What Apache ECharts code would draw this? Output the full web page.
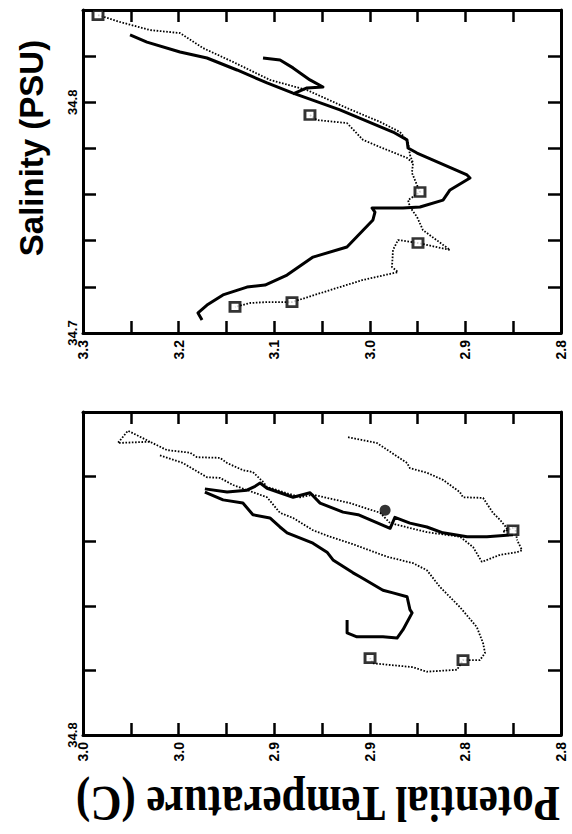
<!DOCTYPE html>
<html>
<head>
<meta charset="utf-8">
<script src="https://cdn.jsdelivr.net/npm/echarts@6/dist/echarts.min.js"></script>
<style>
html,body{margin:0;padding:0;background:#fff;}
#chart{width:572px;height:834px;}
</style>
</head>
<body>
<div id="chart"></div>
<script>
// ---------- Data: [potential temperature (C), salinity (PSU)] ----------
// Upper panel
const topDottedA = [[3.2843,34.8378],[3.2613,34.8348],[3.2299,34.8313],[3.1985,34.8300],[3.1745,34.8235],[3.1431,34.8175],[3.1044,34.8097],[3.0657,34.8053],[3.0239,34.7975],[2.9893,34.7915],[2.9684,34.7871],[2.9600,34.7828],[2.9580,34.7772],[2.9548,34.7737],[2.9559,34.7694],[2.9506,34.7641],[2.9475,34.7611],[2.9600,34.7576],[2.9580,34.7546],[2.9506,34.7503],[2.9444,34.7446],[2.9161,34.7360],[2.9496,34.7390],[2.9705,34.7403],[2.9757,34.7360],[2.9768,34.7286],[2.9705,34.7264],[3.0071,34.7230],[3.0416,34.7186],[3.0814,34.7134],[3.1075,34.7134],[3.1253,34.7130],[3.1410,34.7113]];
const topDottedB = [[3.0626,34.7945],[3.0552,34.7923],[3.0239,34.7910],[3.0071,34.7837],[2.9893,34.7806],[2.9611,34.7759],[2.9548,34.7737]];
const topSolidA = [[3.2508,34.8292],[3.2331,34.8261],[3.1985,34.8218],[3.1703,34.8192],[3.1389,34.8140],[3.1075,34.8084],[3.0803,34.8040],[3.0312,34.7967],[2.9757,34.7871],[2.9611,34.7837],[2.9600,34.7802],[2.9506,34.7780],[2.8983,34.7685],[2.8952,34.7672],[2.9161,34.7620],[2.9234,34.7576],[2.9475,34.7546],[2.9653,34.7542],[2.9977,34.7542],[2.9946,34.7524],[2.9967,34.7490],[3.0239,34.7373],[3.0594,34.7329],[3.0866,34.7251],[3.1096,34.7208],[3.1285,34.7199],[3.1536,34.7165],[3.1703,34.7121],[3.1797,34.7087],[3.1755,34.7056]];
const topSolidB = [[3.1117,34.8192],[3.0939,34.8183],[3.0803,34.8149],[3.0626,34.8097],[3.0490,34.8066],[3.0657,34.8062],[3.0803,34.8036]];
const topSquares = [[3.2843,34.8378],[3.0626,34.7945],[2.9475,34.7611],[2.9496,34.7390],[3.0814,34.7134],[3.1410,34.7113]];

// Lower panel
const botDottedUpper = [[2.9720,34.8454],[2.9812,34.8471],[2.9854,34.8452],[2.9720,34.8454],[2.9649,34.8441],[2.9552,34.8437],[2.9523,34.8430],[2.9427,34.8429],[2.9397,34.8421],[2.9331,34.8410],[2.9289,34.8407],[2.9247,34.8392],[2.9230,34.8384],[2.9092,34.8368],[2.9038,34.8372],[2.8883,34.8359],[2.8757,34.8344],[2.8715,34.8328],[2.8561,34.8314],[2.8423,34.8307],[2.8368,34.8291],[2.8331,34.8268],[2.8255,34.8279],[2.8184,34.8283],[2.8163,34.8286],[2.8184,34.8302]];
const botDottedLoop = [[2.9678,34.8433],[2.9582,34.8421],[2.9481,34.8399],[2.9427,34.8398],[2.9372,34.8387],[2.9230,34.8368],[2.9176,34.8344],[2.9121,34.8336],[2.9038,34.8317],[2.8967,34.8307],[2.8883,34.8297],[2.8728,34.8276],[2.8619,34.8266],[2.8561,34.8255],[2.8506,34.8229],[2.8423,34.8198],[2.8352,34.8167],[2.8326,34.8142],[2.8318,34.8127],[2.8339,34.8116],[2.8410,34.8116],[2.8435,34.8101],[2.8561,34.8098],[2.8619,34.8105],[2.8787,34.8111],[2.8799,34.8119]];
const botDottedTop = [[2.8891,34.8461],[2.8770,34.8452],[2.8644,34.8421],[2.8632,34.8413],[2.8561,34.8406],[2.8494,34.8395],[2.8423,34.8376],[2.8410,34.8368],[2.8326,34.8367],[2.8285,34.8344],[2.8255,34.8333],[2.8226,34.8320],[2.8243,34.8314],[2.8192,34.8322],[2.8184,34.8302]];
const botSolidA = [[2.9490,34.8381],[2.9397,34.8376],[2.9314,34.8379],[2.9280,34.8385],[2.9259,34.8390],[2.9230,34.8382],[2.9121,34.8368],[2.9050,34.8375],[2.9008,34.8359],[2.8912,34.8345],[2.8849,34.8341],[2.8715,34.8320],[2.8695,34.8337],[2.8632,34.8328],[2.8561,34.8322],[2.8494,34.8313],[2.8393,34.8307],[2.8310,34.8307],[2.8201,34.8310]];
const botSolidB = [[2.9490,34.8376],[2.9414,34.8364],[2.9331,34.8359],[2.9289,34.8341],[2.9218,34.8336],[2.9176,34.8322],[2.9146,34.8313],[2.9038,34.8297],[2.8979,34.8283],[2.8954,34.8271],[2.8870,34.8251],[2.8841,34.8245],[2.8745,34.8224],[2.8703,34.8220],[2.8644,34.8214],[2.8632,34.8194],[2.8623,34.8189],[2.8661,34.8163],[2.8686,34.8150],[2.8745,34.8152],[2.8854,34.8152],[2.8895,34.8158],[2.8895,34.8178]];
const botSquares = [[2.8799,34.8119],[2.8410,34.8116],[2.8201,34.8317]];
const botDots = [[2.8736,34.8348]];

// Tick labels
const topTempTicks = [2.8, 2.9, 3.0, 3.1, 3.2, 3.3];
const botTempTicks = [2.80, 2.84, 2.88, 2.92, 2.96, 3.00];
const topSalTicks = [34.7, 34.8];
const botSalTicks = [34.8];
const salTitle = 'Salinity (PSU)';
const tempTitle = 'Potential Temperature (C)';

function labelFor(ticks) {
  return function (v) {
    for (const t of ticks) { if (Math.abs(v - t) < 1e-6) return t.toFixed(1); }
    return '';
  };
}
const labelFont = { color: '#000', fontWeight: 'bold', fontSize: 14, fontFamily: 'Liberation Sans' };
function xAxisDef(gridIndex, pos, min, max, interval, ticks) {
  return {
    type: 'value', gridIndex, position: pos, inverse: true, min, max, interval,
    axisLine: { show: true, onZero: false, lineStyle: { color: '#000', width: 3 } },
    axisTick: { show: true, inside: true, length: 12, lineStyle: { color: '#000', width: 2.5 } },
    axisLabel: Object.assign({ show: pos === 'bottom', rotate: 90, margin: 7, showMinLabel: true, showMaxLabel: true, formatter: labelFor(ticks) }, labelFont),
    splitLine: { show: false }
  };
}
function yAxisDef(gridIndex, pos, min, max, interval, ticks) {
  return {
    type: 'value', gridIndex, position: pos, min, max, interval,
    axisLine: { show: true, onZero: false, lineStyle: { color: '#000', width: 3 } },
    axisTick: { show: true, inside: true, length: 13, lineStyle: { color: '#000', width: 2.5 } },
    axisLabel: Object.assign({ show: pos === 'left', rotate: 90, margin: 4, showMinLabel: true, showMaxLabel: true, formatter: labelFor(ticks) }, labelFont, { fontSize: 13 }),
    splitLine: { show: false }
  };
}

const solidStyle = { color: '#000', width: 3, type: 'solid', join: 'round' };
const dottedStyle = { color: '#000', width: 1.8, type: [1.6, 1.6] };
function lineSeries(data, idx, style) {
  return { type: 'line', data, xAxisIndex: idx, yAxisIndex: idx, symbol: 'none', lineStyle: style, silent: true, z: 3 };
}
function squareSeries(data, idx) {
  return { type: 'scatter', data, xAxisIndex: idx, yAxisIndex: idx, symbol: 'rect', symbolSize: [10, 9],
    itemStyle: { color: '#fff', borderColor: '#000', borderWidth: 2.8 }, silent: true, z: 5 };
}

const chart = echarts.init(document.getElementById('chart'), null, { renderer: 'svg' });
chart.setOption({
  animation: false,
  backgroundColor: '#fff',
  grid: [
    { left: 83, top: 10, width: 478, height: 323 },
    { left: 83, top: 412, width: 478, height: 323 }
  ],
  xAxis: [
    xAxisDef(0, 'bottom', 2.8, 3.3, 0.05, topTempTicks),
    xAxisDef(0, 'top', 2.8, 3.3, 0.05, topTempTicks),
    xAxisDef(1, 'bottom', 2.8, 3.0, 0.02, botTempTicks),
    xAxisDef(1, 'top', 2.8, 3.0, 0.02, botTempTicks)
  ],
  yAxis: [
    yAxisDef(0, 'left', 34.70, 34.84, 0.02, topSalTicks),
    yAxisDef(0, 'right', 34.70, 34.84, 0.02, topSalTicks),
    yAxisDef(1, 'left', 34.80, 34.85, 0.01, botSalTicks),
    yAxisDef(1, 'right', 34.80, 34.85, 0.01, botSalTicks)
  ],
  graphic: [
    { type: 'text', x: 31, y: 148, rotation: Math.PI / 2,
      style: { text: salTitle, font: 'bold 33px "Liberation Sans"', fill: '#000', align: 'center', verticalAlign: 'middle' } },
    { type: 'text', x: 318, y: 804, rotation: Math.PI, scaleY: 1.2,
      style: { text: tempTitle, font: 'bold 43px "Liberation Serif"', fill: '#000', align: 'center', verticalAlign: 'middle' } }
  ],
  series: [
    lineSeries(topDottedA, 0, dottedStyle),
    lineSeries(topDottedB, 0, dottedStyle),
    lineSeries(topSolidA, 0, solidStyle),
    lineSeries(topSolidB, 0, solidStyle),
    squareSeries(topSquares, 0),
    lineSeries(botDottedUpper, 2, dottedStyle),
    lineSeries(botDottedLoop, 2, dottedStyle),
    lineSeries(botDottedTop, 2, dottedStyle),
    lineSeries(botSolidA, 2, solidStyle),
    lineSeries(botSolidB, 2, solidStyle),
    squareSeries(botSquares, 2),
    { type: 'scatter', data: botDots, xAxisIndex: 2, yAxisIndex: 2, symbol: 'circle', symbolSize: 11,
      itemStyle: { color: '#000' }, silent: true, z: 5 }
  ]
});
</script>
</body>
</html>
